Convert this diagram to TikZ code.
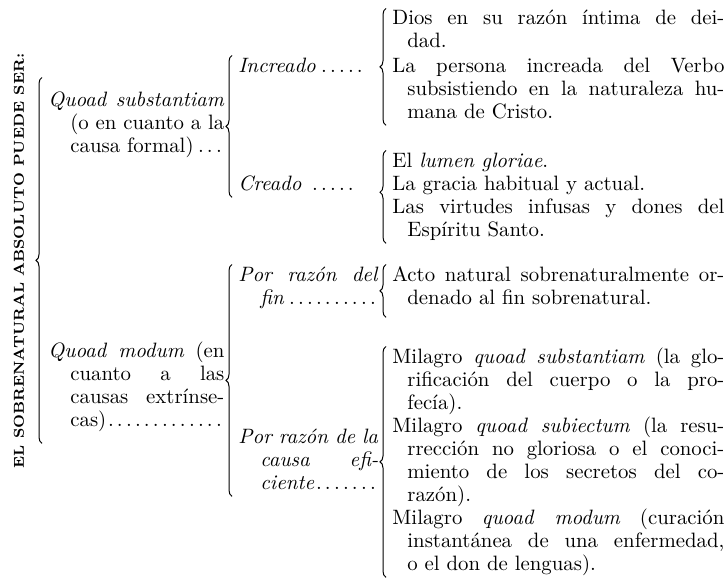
\documentclass[tikz,border=0pt]{standalone}
\usepackage{fontspec}
\usetikzlibrary{decorations.pathreplacing, calc}
\newcommand{\texto}{\fontsize{10.4}{11.5}\selectfont\tolerance=9999\hbadness=10000}
\newcommand{\puntos}{\parfillskip=0pt\leaders\hbox to 4.5pt{\hss.\hss}\hfill\kern0pt}

\begin{document}
\begin{tikzpicture}[x=0.5pt, y=-0.5pt]
      \tikzset{ tronco/.style={font=\texto, anchor=base west, inner sep=0pt, text width=88pt,  align=justify, execute at begin node={\strut\hangindent=11pt\hangafter=1}, execute at end node=\strut} }
      \tikzset{ rama/.style  ={font=\texto, anchor=base west, inner sep=0pt, text width=70pt,  align=justify, execute at begin node={\strut\hangindent=11pt\hangafter=1}, execute at end node=\strut} }
      \tikzset{ hoja/.style  ={font=\texto, anchor=base west, inner sep=0pt, text width=166pt, align=justify, execute at begin node={\strut\hangindent=7.5pt\hangafter=1}, execute at end node=\strut} }
      \tikzset{ llave/.style ={decorate, decoration={brace, amplitude=3pt, aspect=0.5}, line width=0.5pt} }

      \path[use as bounding box] (0,0) rectangle (726,578);

      \node[rotate=90, inner sep=0pt, font=\fontsize{7.2}{8}\selectfont\bfseries] (titulo) at (19,261) {EL SOBRENATURAL ABSOLUTO PUEDE SER:};

      \node[tronco] (sustancia) at ( 48,106) {\parshape 3 0pt 88pt 0pt 88pt 11pt 77pt \textit{Quoad substantiam}\linebreak (o en cuanto a la\linebreak causa formal)\puntos};
      \node[tronco] (modo)      at ( 48,357) {\textit{Quoad modum} (en\linebreak cuanto a las\linebreak causas extrínse-\linebreak cas)\puntos};

      \node[rama, text width=64pt] (increado)  at (238, 72) {\textit{Increado}\puntos};
      \node[rama, text width=60pt] (creado)    at (238,190) {\textit{Creado}\puntos};
      \node[rama                 ] (fin)       at (238,281) {\textit{Por razón del}\linebreak\textit{fin}\puntos};
      \node[rama                 ] (eficiente) at (238,443) {\textit{Por razón de la}\linebreak\textit{causa efi-}\linebreak\textit{ciente}\puntos};

      \node[hoja] (dios)         at (392, 25) {Dios en su razón íntima de dei-\linebreak dad.};
      \node[hoja] (persona)      at (392, 72) {La persona increada del Verbo\linebreak subsistiendo en la naturaleza hu-\linebreak mana de Cristo.};
      \node[hoja] (lumen)        at (392,167) {El \textit{lumen gloriae}.};
      \node[hoja] (gracia)       at (392,190) {La gracia habitual y actual.};
      \node[hoja] (virtudes)     at (392,213) {Las virtudes infusas y dones del\linebreak Espíritu Santo.};
      \node[hoja] (acto)         at (392,281) {Acto natural sobrenaturalmente or-\linebreak denado al fin sobrenatural.};
      \node[hoja] (milsustancia) at (392,363) {Milagro \textit{quoad substantiam} (la glo-\linebreak rificación del cuerpo o la pro-\linebreak fecía).};
      \node[hoja] (milsujeto)    at (392,432) {Milagro \textit{quoad subiectum} (la resu-\linebreak rrección no gloriosa o el conoci-\linebreak miento de los secretos del co-\linebreak razón).};
      \node[hoja] (milmodo)      at (392,524) {Milagro \textit{quoad modum} (curación\linebreak instantánea de una enfermedad,\linebreak o el don de lenguas).};

      \draw[llave] ([shift={(-6,10)}]modo.south west) -- ([shift={(-6,-12)}]sustancia.north west);
      \draw[llave] ([xshift=-3pt]creado.south west)    -- ([xshift=-3pt]increado.north west);
      \draw[llave] ([xshift=-3pt]eficiente.south west) -- ([xshift=-3pt]fin.north west);
      \draw[llave] ([xshift=-3pt]persona.south west)   -- ([xshift=-3pt]dios.north west);
      \draw[llave, decoration={aspect=0.55}] ([xshift=-3pt]virtudes.south west) -- ([xshift=-3pt]lumen.north west);
      \draw[llave] ([shift={(-6,6)}]acto.south west)   -- ([xshift=-3pt]acto.north west);
      \draw[llave] ([xshift=-3pt]milmodo.south west)   -- ([xshift=-3pt]milsustancia.north west);
    \end{tikzpicture}
\end{document}
